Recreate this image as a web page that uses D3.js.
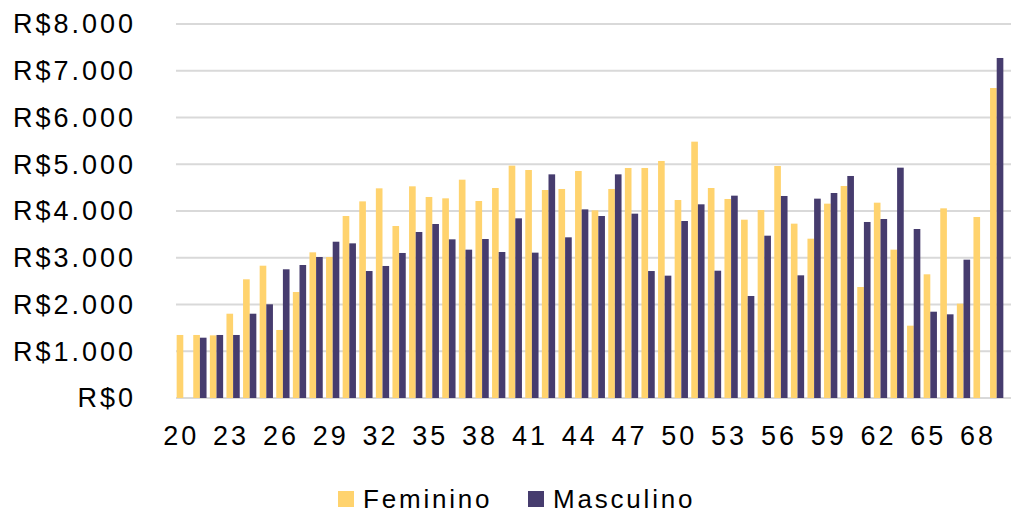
<!DOCTYPE html>
<html>
<head>
<meta charset="utf-8">
<script src="https://cdn.jsdelivr.net/npm/d3@7"></script>
<style>
  body { margin: 0; background: #fff; }
  text { font-family: "Liberation Sans", Arial, sans-serif; fill: #000; }
</style>
</head>
<body>
<div class="chart"></div>
<script>
// ages 20..69
const ages = d3.range(20, 70);
const tickAges = [20, 23, 26, 29, 32, 35, 38, 41, 44, 47, 50, 53, 56, 59, 62, 65, 68];
const yTicks = [0, 1000, 2000, 3000, 4000, 5000, 6000, 7000, 8000];
const seriesNames = ['Feminino', 'Masculino'];

const feminino = [1348, 1348, 1340, 1803, 2539, 2830, 1455, 2267, 3116, 3016,
  3893, 4206, 4485, 3679, 4528, 4300, 4271, 4670, 4214, 4492,
  4970, 4877, 4449, 4471, 4856, 4014, 4471, 4920, 4920, 5070,
  4235, 5483, 4492, 4257, 3814, 4021, 4963, 3729, 3408, 4157,
  4535, 2374, 4178, 3173, 1547, 2646, 4057, 2018, 3872, 6631];
const masculino = [null, 1290, 1348, 1348, 1803, 2004, 2753, 2845, 3016, 3343,
  3308, 2716, 2824, 3102, 3551, 3722, 3394, 3173, 3401, 3123,
  3843, 3109, 4784, 3437, 4035, 3893, 4784, 3943, 2716, 2617,
  3786, 4143, 2723, 4328, 2182, 3472, 4321, 2624, 4264, 4385,
  4749, 3765, 3829, 4927, 3615, 1846, 1790, 2959, null, 7273];

const colors = ['#FFD36E', '#463C6E'];

const W = 1011, H = 514;
const plot = {left: 175, right: 1005, top: 24, bottom: 398};

const svg = d3.select('.chart').append('svg')
    .attr('width', W)
    .attr('height', H);

const x = d3.scaleBand().domain(ages)
    .range([plot.left, plot.right])
    .paddingInner(0.2).paddingOuter(0.1);
const xs = d3.scaleBand().domain(seriesNames).range([0, x.bandwidth()]);
const y = d3.scaleLinear().domain([0, 8000]).range([plot.bottom, plot.top]);

const fmt = v => 'R$' + (v === 0 ? '0' : d3.format(',')(v).replace(/,/g, '.'));

// grid lines
svg.append('g').selectAll('line')
    .data(yTicks)
    .enter().append('line')
    .attr('x1', 176).attr('x2', W)
    .attr('y1', d => y(d)).attr('y2', d => y(d))
    .attr('stroke', '#D9D9D9')
    .attr('stroke-width', 2);

// y labels
svg.append('g').selectAll('text')
    .data(yTicks)
    .enter().append('text')
    .attr('x', 136)
    .attr('y', d => y(d))
    .attr('dy', '0.35em')
    .attr('text-anchor', 'end')
    .style('font-size', '27px')
    .style('letter-spacing', '3px')
    .text(fmt);

// bars
const rows = ages.map((a, i) => ({age: a, vals: [feminino[i], masculino[i]]}));
const groups = svg.append('g').selectAll('g')
    .data(rows)
    .enter().append('g')
    .attr('transform', d => 'translate(' + x(d.age) + ',0)');

groups.selectAll('rect')
    .data(d => d.vals.map((v, k) => ({name: seriesNames[k], v: v, k: k})).filter(e => e.v != null))
    .enter().append('rect')
    .attr('x', d => xs(d.name))
    .attr('width', xs.bandwidth())
    .attr('y', d => y(d.v))
    .attr('height', d => y(0) - y(d.v))
    .attr('fill', d => colors[d.k]);

// x labels
svg.append('g').selectAll('text')
    .data(tickAges)
    .enter().append('text')
    .attr('x', d => x(d) + x.bandwidth() / 2 - 2)
    .attr('y', 445)
    .attr('text-anchor', 'middle')
    .style('font-size', '27px')
    .style('letter-spacing', '3px')
    .text(d => d);

// legend
const legendX = [338, 528];
const legend = svg.append('g').selectAll('g')
    .data(seriesNames)
    .enter().append('g')
    .attr('transform', (d, i) => 'translate(' + legendX[i] + ',491)');
legend.append('rect')
    .attr('width', 16).attr('height', 16)
    .attr('fill', (d, i) => colors[i]);
legend.append('text')
    .attr('x', 25)
    .attr('y', 17)
    .style('font-size', '26px')
    .style('letter-spacing', '2.8px')
    .text(d => d);
</script>
</body>
</html>
